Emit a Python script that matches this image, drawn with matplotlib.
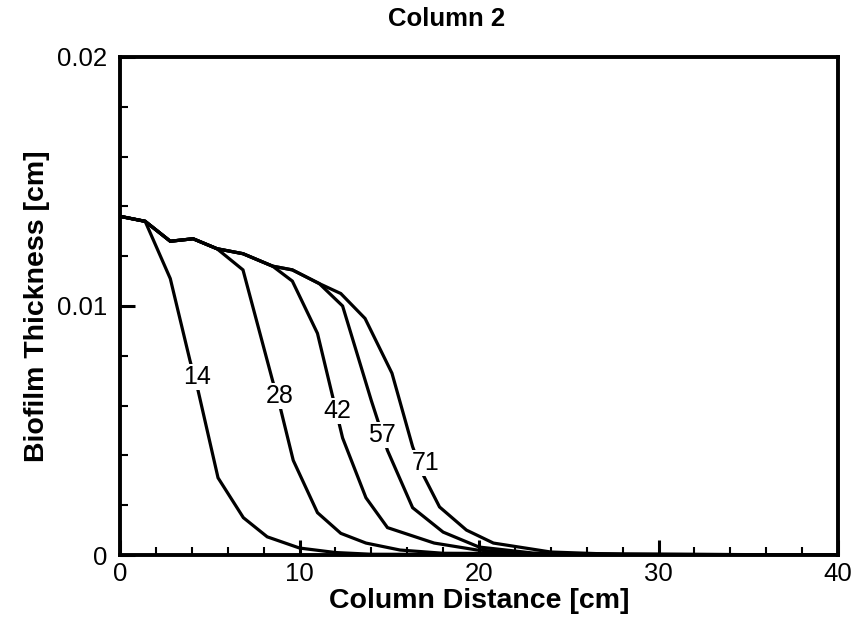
import matplotlib
matplotlib.use("Agg")
import matplotlib.pyplot as plt
from matplotlib.ticker import MultipleLocator

plt.rcParams['font.family'] = ['Liberation Sans', 'DejaVu Sans']

# Data (x in cm, thickness in cm)
x14 = [0, 1.4, 2.8, 3.9, 4.35, 5.46, 6.87, 8.2, 10.0, 12.0, 14.0, 40]
y14 = [0.0136, 0.0134, 0.0111, 0.0078, 0.0066, 0.0031, 0.0015, 0.00073, 0.00028, 0.0001, 0.00003, 0]

x28 = [0, 1.4, 2.8, 4.07, 5.4, 6.85, 8.5, 8.9, 9.65, 11.0, 12.3, 13.7, 15.6, 18.0, 40]
y28 = [0.0136, 0.0134, 0.0126, 0.0127, 0.0123, 0.01145, 0.0070, 0.0060, 0.0038, 0.0017, 0.00087, 0.00048, 0.0002, 0.00007, 0]

x42 = [0, 1.4, 2.8, 4.07, 5.4, 6.85, 8.5, 9.6, 11.0, 11.8, 12.4, 13.7, 14.9, 17.5, 19.9, 23.0, 40]
y42 = [0.0136, 0.0134, 0.0126, 0.0127, 0.0123, 0.0121, 0.0116, 0.0110, 0.0089, 0.0065, 0.0047, 0.0023, 0.0011, 0.00048, 0.0002, 0.00005, 0]

x57 = [0, 1.4, 2.8, 4.07, 5.4, 6.85, 8.5, 9.6, 11.1, 12.4, 14.0, 14.9, 16.3, 18.0, 20.0, 23.0, 27.0, 40]
y57 = [0.0136, 0.0134, 0.0126, 0.0127, 0.0123, 0.0121, 0.0116, 0.01145, 0.0109, 0.0100, 0.0062, 0.0042, 0.0019, 0.00092, 0.00032, 0.00008, 0.00001, 0]

x71 = [0, 1.4, 2.8, 4.07, 5.4, 6.85, 8.5, 9.6, 11.1, 12.3, 13.65, 15.15, 16.3, 16.9, 17.8, 19.3, 20.8, 24.0, 28.0, 40]
y71 = [0.0136, 0.0134, 0.0126, 0.0127, 0.0123, 0.0121, 0.0116, 0.01145, 0.0109, 0.0105, 0.0095, 0.0073, 0.00435, 0.0032, 0.00193, 0.0010, 0.00048, 0.00012, 0.00002, 0]

series_x = [x14, x28, x42, x57, x71]
series_y = [y14, y28, y42, y57, y71]
labels = ['14', '28', '42', '57', '71']
label_x = [4.3, 8.9, 12.1, 14.6, 17.0]
label_y = [0.00715, 0.0064, 0.0058, 0.0048, 0.0037]

xtick_vals = [0, 10, 20, 30, 40]
xtick_labels = ['0', '10', '20', '30', '40']
ytick_vals = [0, 0.01, 0.02]
ytick_labels = ['0', '0.01', '0.02']

fig = plt.figure(figsize=(8.66, 6.22), dpi=100)
ax = fig.add_axes([0.1386, 0.1077, 0.8291, 0.8007])

for xs, ys in zip(series_x, series_y):
    ax.plot(xs, ys, color='black', lw=2.3, solid_joinstyle='miter', zorder=2)

for lab, lx, ly in zip(labels, label_x, label_y):
    ax.text(lx, ly, lab, fontsize=18, ha='center', va='center', zorder=3,
            bbox=dict(facecolor='white', edgecolor='none', pad=0.8))

ax.set_xlim(0, 40)
ax.set_ylim(0, 0.02)
ax.xaxis.set_minor_locator(MultipleLocator(2))
ax.yaxis.set_minor_locator(MultipleLocator(0.002))
ax.set_xticks(xtick_vals)
ax.set_xticklabels(xtick_labels)
ax.set_yticks(ytick_vals)
ax.set_yticklabels(ytick_labels)
ax.tick_params(which='major', direction='in', length=11, width=2.2, labelsize=18.5)
ax.tick_params(axis='x', which='major', pad=5)
ax.tick_params(axis='y', which='major', pad=9)
ax.tick_params(which='minor', direction='in', length=6, width=1.5)
for sp in ax.spines.values():
    sp.set_linewidth(2.8)

ax.set_xlabel('Column Distance [cm]', fontsize=20.5, fontweight='bold')
ax.xaxis.set_label_coords(0.5, -0.066)
ax.set_ylabel('Biofilm Thickness [cm]', fontsize=20.5, fontweight='bold')
ax.yaxis.set_label_coords(-0.0975, 0.5)
fig.text(447 / 866, 1 - 7 / 622, 'Column 2', fontsize=18.5, fontweight='bold',
         ha='center', va='top')

fig.savefig('out.png', dpi=100)
